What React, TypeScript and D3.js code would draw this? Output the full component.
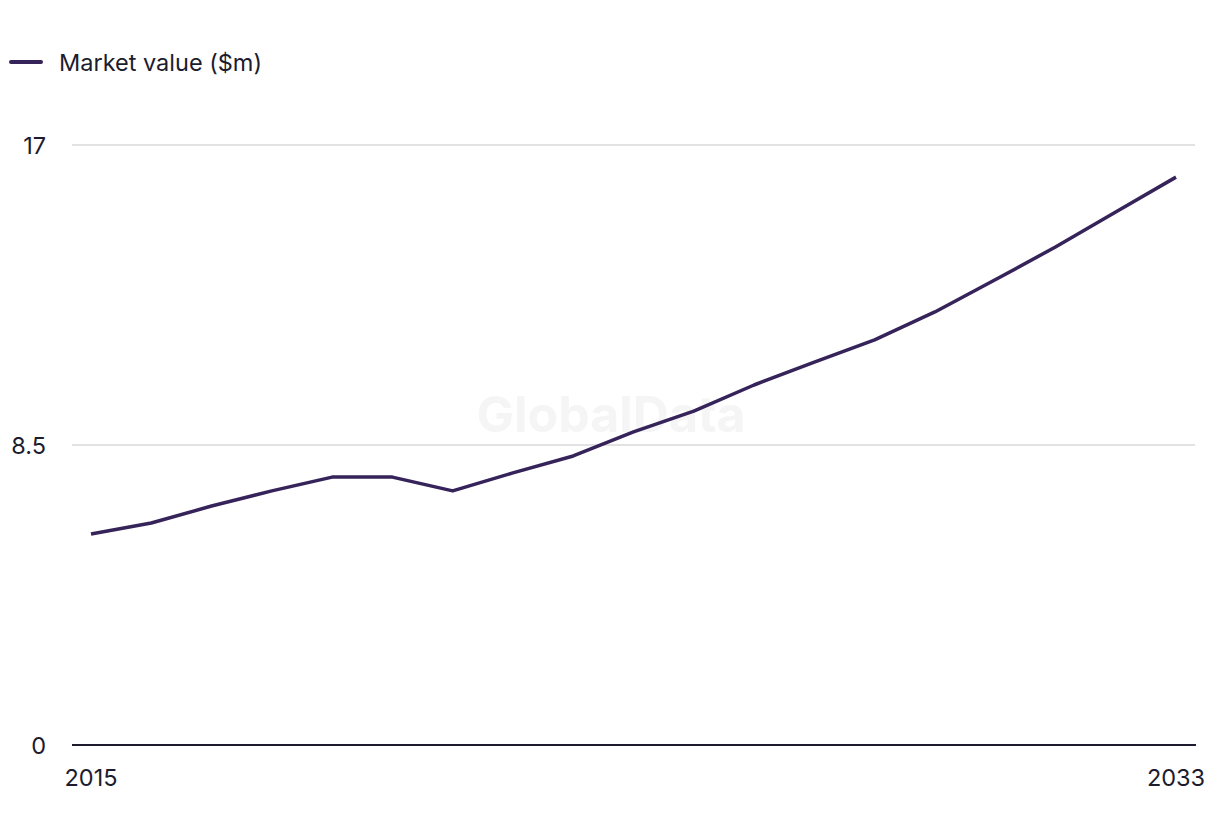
import React from "react";
import * as d3 from "d3";

const years: number[] = [2015, 2016, 2017, 2018, 2019, 2020, 2021, 2022, 2023, 2024, 2025, 2026, 2027, 2028, 2029, 2030, 2031, 2032, 2033];
const marketValue: number[] = [5.98, 6.29, 6.77, 7.2, 7.59, 7.59, 7.2, 7.71, 8.19, 8.87, 9.46, 10.2, 10.85, 11.48, 12.27, 13.18, 14.11, 15.1, 16.09];
const yTicks: number[] = [0, 8.5, 17];
const xTickLabels: number[] = [2015, 2033];
const seriesName = "Market value ($m)";

const W = 1220;
const H = 836;
const FONT = "Inter, 'Liberation Sans', sans-serif";
const LINE_COLOR = "#35235a";
const TEXT_COLOR = "#1c1c2e";

export default function App() {
  const x = d3.scaleLinear().domain([2015, 2033]).range([91, 1176]);
  const y = d3.scaleLinear().domain([0, 17]).range([745, 145]);
  const line = d3
    .line<number>()
    .x((_, i) => x(years[i]))
    .y((d) => y(d));

  return (
    <svg
      width={W}
      height={H}
      style={{ position: "absolute", left: 0, top: 0, background: "#fff" }}
    >
      <text
        x={611}
        y={418}
        textAnchor="middle"
        dominantBaseline="middle"
        fontFamily={FONT}
        fontWeight={700}
        fontSize={50}
        fill="#f5f5f5"
      >
        GlobalData
      </text>
      {/* legend */}
      <line x1={11} x2={41} y1={62} y2={62} stroke={LINE_COLOR} strokeWidth={4} strokeLinecap="round" />
      <text x={59} y={62} dominantBaseline="central" fontFamily={FONT} fontSize={23.5} fill={TEXT_COLOR}>
        {seriesName}
      </text>
      {/* grid */}
      {yTicks.map((t) => (
        <g key={t}>
          {t !== 0 && (
            <line x1={72} x2={1195} y1={y(t)} y2={y(t)} stroke="#d9d9d9" strokeWidth={1.5} />
          )}
          <text
            x={46}
            y={y(t)}
            textAnchor="end"
            dominantBaseline="central"
            fontFamily={FONT}
            fontSize={23.5}
            fill={TEXT_COLOR}
          >
            {t}
          </text>
        </g>
      ))}
      <line x1={72} x2={1196} y1={y(0)} y2={y(0)} stroke={TEXT_COLOR} strokeWidth={2} />
      {xTickLabels.map((t) => (
        <text
          key={t}
          x={x(t)}
          y={777}
          textAnchor="middle"
          dominantBaseline="central"
          fontFamily={FONT}
          fontSize={23.5}
          fill={TEXT_COLOR}
        >
          {t}
        </text>
      ))}
      <path d={line(marketValue) || ""} fill="none" stroke={LINE_COLOR} strokeWidth={3.5} strokeLinejoin="round" />
    </svg>
  );
}
